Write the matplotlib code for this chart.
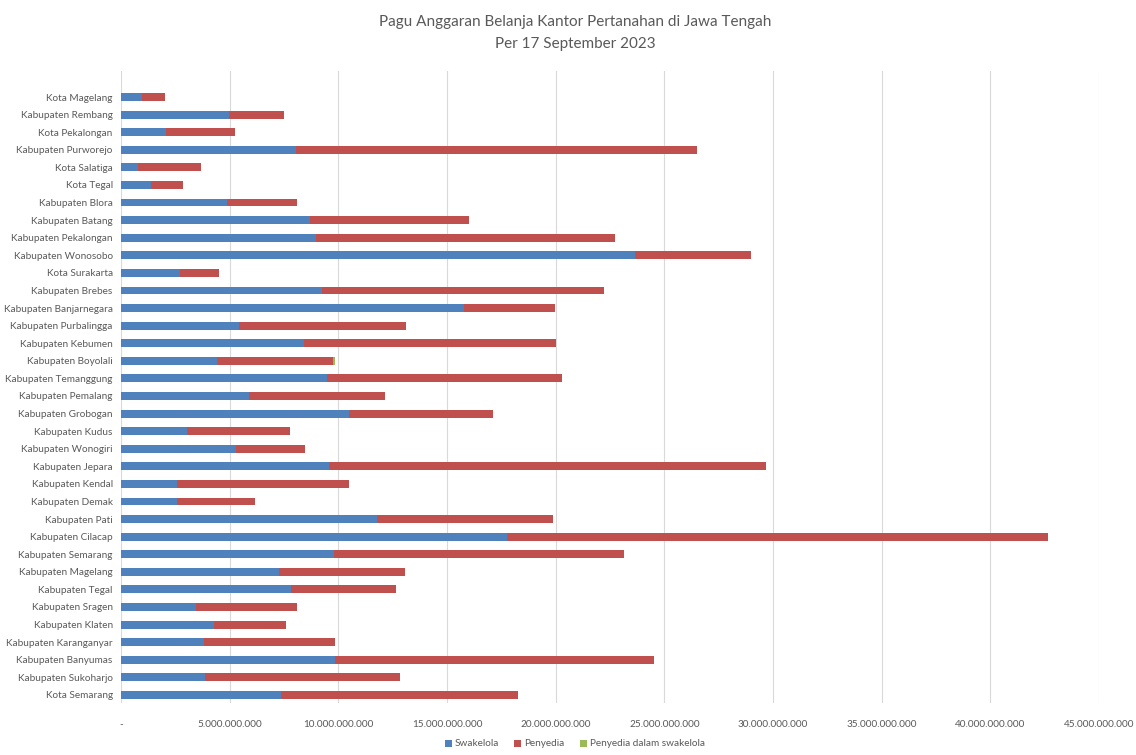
import numpy as np
import matplotlib
matplotlib.use('Agg')
import matplotlib.pyplot as plt
from matplotlib.ticker import FuncFormatter

plt.rcParams['font.family'] = ['Lato', 'DejaVu Sans']

# top-to-bottom order as in the chart
kantor = [
    'Kota Magelang', 'Kabupaten Rembang', 'Kota Pekalongan', 'Kabupaten Purworejo',
    'Kota Salatiga', 'Kota Tegal', 'Kabupaten Blora', 'Kabupaten Batang',
    'Kabupaten Pekalongan', 'Kabupaten Wonosobo', 'Kota Surakarta', 'Kabupaten Brebes',
    'Kabupaten Banjarnegara', 'Kabupaten Purbalingga', 'Kabupaten Kebumen', 'Kabupaten Boyolali',
    'Kabupaten Temanggung', 'Kabupaten Pemalang', 'Kabupaten Grobogan', 'Kabupaten Kudus',
    'Kabupaten Wonogiri', 'Kabupaten Jepara', 'Kabupaten Kendal', 'Kabupaten Demak',
    'Kabupaten Pati', 'Kabupaten Cilacap', 'Kabupaten Semarang', 'Kabupaten Magelang',
    'Kabupaten Tegal', 'Kabupaten Sragen', 'Kabupaten Klaten', 'Kabupaten Karanganyar',
    'Kabupaten Banyumas', 'Kabupaten Sukoharjo', 'Kota Semarang',
]

# in billions of rupiah (x 1e9)
swakelola = [
    0.96, 4.97, 2.07, 8.05, 0.78, 1.38, 4.88, 8.70, 8.97, 23.65, 2.70, 9.25,
    15.78, 5.43, 8.42, 4.42, 9.48, 5.90, 10.50, 3.04, 5.29, 9.57, 2.58, 2.58,
    11.78, 17.76, 9.80, 7.27, 7.82, 3.45, 4.28, 3.82, 9.85, 3.87, 7.36,
]
total_penyedia = [
    2.02, 7.50, 5.25, 26.50, 3.68, 2.85, 8.10, 16.00, 22.73, 29.00, 4.50, 22.23,
    19.97, 13.12, 20.02, 9.76, 20.30, 12.15, 17.12, 7.78, 8.47, 29.68, 10.50, 6.17,
    19.88, 42.66, 23.15, 13.07, 12.66, 8.10, 7.59, 9.85, 24.53, 12.84, 18.27,
]
penyedia_swakelola = [0.0] * 35
penyedia_swakelola[15] = 0.10

swakelola = np.array(swakelola) * 1e9
penyedia = np.array(total_penyedia) * 1e9 - swakelola
penyedia_sw = np.array(penyedia_swakelola) * 1e9

fig = plt.figure(figsize=(11.36, 7.55), dpi=100)
ax = fig.add_axes([121 / 1136, 1 - 703 / 755, (1099 - 121) / 1136, 632 / 755])

y = np.arange(len(kantor))
h = 0.45
ax.barh(y, swakelola, height=h, color='#4F81BD', label='Swakelola', zorder=3)
ax.barh(y, penyedia, left=swakelola, height=h, color='#C0504D', label='Penyedia', zorder=3)
ax.barh(y, penyedia_sw, left=swakelola + penyedia, height=h, color='#9BBB59',
        label='Penyedia dalam swakelola', zorder=3)

ax.set_ylim(len(kantor) - 1 + 0.46, -1.48)
ax.set_xlim(0, 45e9)
ax.set_xticks(np.arange(0, 45e9 + 1, 5e9))


def fmt(v, pos):
    if v == 0:
        return '-'
    return f'{v:,.0f}'.replace(',', '.')


ax.xaxis.set_major_formatter(FuncFormatter(fmt))
ax.set_yticks(y)
ax.set_yticklabels(kantor)
ax.tick_params(axis='both', length=0, colors='#595959', labelsize=7.2)
ax.tick_params(axis='x', pad=12)
ax.tick_params(axis='y', pad=6)
ax.grid(axis='x', color='#d9d9d9', linewidth=0.8, zorder=0)
for s in ax.spines.values():
    s.set_visible(False)

fig.text(0.506, 1 - 22 / 755, 'Pagu Anggaran Belanja Kantor Pertanahan di Jawa Tengah',
         ha='center', va='center', fontsize=11, color='#595959')
fig.text(0.506, 1 - 44 / 755, 'Per 17 September 2023',
         ha='center', va='center', fontsize=11, color='#595959')

fig.legend(loc='center', bbox_to_anchor=(0.506, 1 - 744 / 755), ncol=3, frameon=False,
           fontsize=7.2, handlelength=0.7, handleheight=0.7, handletextpad=0.3,
           columnspacing=1.5, labelcolor='#595959')

fig.savefig('out.png', dpi=100)
